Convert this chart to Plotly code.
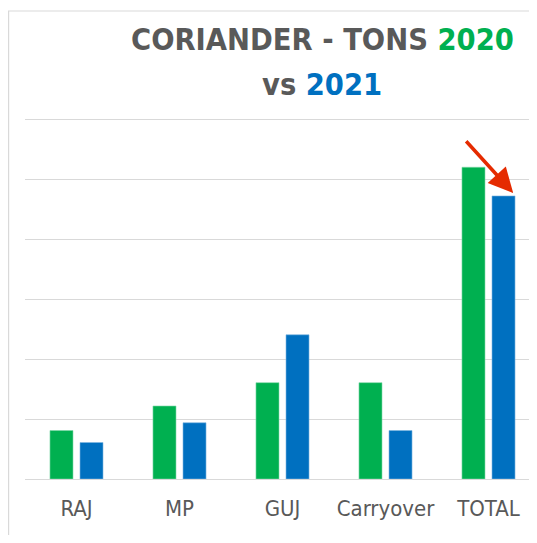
import plotly.graph_objects as go

categories = ["RAJ", "MP", "GUJ", "Carryover", "TOTAL"]
tons_2020 = [8.1, 12.2, 16.1, 16.1, 52.1]
tons_2021 = [6.1, 9.4, 24.1, 8.1, 47.3]

GREEN = "#00B050"
BLUE = "#0070C0"
GRAY = "#595959"
FONT = "DejaVu Sans Condensed, Liberation Sans Narrow, sans-serif"

fig = go.Figure()
fig.add_trace(go.Bar(x=categories, y=tons_2020, name="2020",
                     marker=dict(color=GREEN, line=dict(color="#7fd8a7", width=0.6))))
fig.add_trace(go.Bar(x=categories, y=tons_2021, name="2021",
                     marker=dict(color=BLUE, line=dict(color="#7fb7e0", width=0.6))))

# page body has an 8px margin, so the figure is offset by 8px in the window
W, H = 529, 527
L, R, T, B = 17, 0, 100, 56
pw = W - L - R
ph = H - T - B
CAT = 103.0  # px per category

def px_x(px):
    return (px - L) / pw

def px_y(py):
    return (H - B - py) / ph

fig.update_layout(
    width=W, height=H,
    margin=dict(l=L, r=R, t=T, b=B, pad=0),
    paper_bgcolor="white", plot_bgcolor="white",
    barmode="group", bargap=0.417, bargroupgap=0.233,
    showlegend=False,
    font=dict(family=FONT, color=GRAY),
    xaxis=dict(range=[-0.5, pw / CAT - 0.5], showgrid=False, showline=False, zeroline=False,
               ticks="", tickfont=dict(family=FONT, size=22, color=GRAY), ticklabelstandoff=14),
    yaxis=dict(range=[0, 62], dtick=10, showgrid=True, gridcolor="#D9D9D9", gridwidth=1.2,
               zeroline=True, zerolinecolor="#D9D9D9", zerolinewidth=1.2,
               showticklabels=False, showline=False),
)

# Title
fig.add_annotation(xref="paper", yref="paper", x=px_x(314), y=px_y(32),
                   xanchor="center", yanchor="middle", showarrow=False,
                   text="<b>CORIANDER - TONS <span style='color:%s'>2020</span></b>" % GREEN,
                   font=dict(family=FONT, size=30.5, color=GRAY))
fig.add_annotation(xref="paper", yref="paper", x=px_x(314), y=px_y(77),
                   xanchor="center", yanchor="middle", showarrow=False,
                   text="<b>vs <span style='color:%s'>2021</span></b>" % BLUE,
                   font=dict(family=FONT, size=30.5, color=GRAY))

# Red arrow
fig.add_annotation(x=4.24, y=47.8, ax=3.77, ay=56.7, xref="x", yref="y", axref="x", ayref="y",
                   showarrow=True, arrowhead=2, arrowsize=1.4, arrowwidth=3.5,
                   arrowcolor="#E52B00", text="")

# Chart frame
fig.add_shape(type="rect", xref="paper", yref="paper",
              x0=px_x(0.6), x1=1.2, y0=-0.5, y1=px_y(3),
              line=dict(color="#D9D9D9", width=1.2), fillcolor="rgba(0,0,0,0)", layer="below")

fig.write_html("out.html")
